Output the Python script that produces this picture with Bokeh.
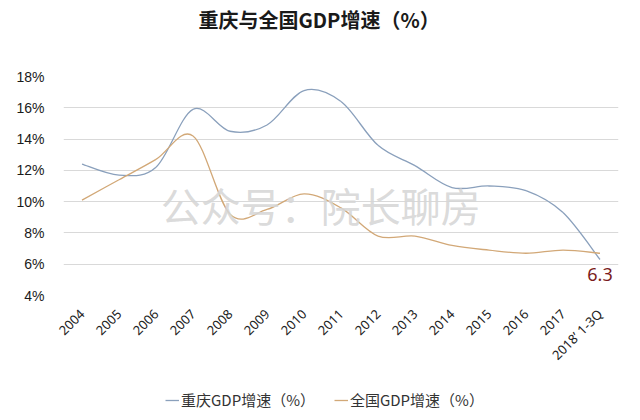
import math
from bokeh.plotting import figure
from bokeh.layouts import column
from bokeh.models import Range1d, FixedTicker, Legend, LegendItem, Label, Title
from bokeh.embed import file_html
from bokeh.resources import INLINE
from bokeh.core.properties import value

# ---- data ----
categories = ["2004", "2005", "2006", "2007", "2008", "2009", "2010", "2011",
              "2012", "2013", "2014", "2015", "2016", "2017", "2018’ 1-3Q"]
chongqing = [12.4, 11.7, 12.2, 15.9, 14.5, 14.9, 17.1, 16.4, 13.6, 12.3, 10.9, 11.0, 10.7, 9.3, 6.3]
national = [10.1, 11.4, 12.7, 14.2, 9.2, 9.5, 10.5, 9.6, 7.8, 7.8, 7.2, 6.9, 6.7, 6.9, 6.7]
y_ticks = [4, 6, 8, 10, 12, 14, 16, 18]
series_names = ["重庆GDP增速（%）", "全国GDP增速（%）"]
title_text = "重庆与全国GDP增速（%）"
watermark = "公众号：院长聊房"
last_label = "6.3"

CJK = "Noto Sans CJK SC"
BLUE = "#8aa0bc"
TAN = "#d2a877"

W = 632
H1 = 376
H2 = 40

p = figure(width=W, height=H1, output_backend="svg", toolbar_location=None, title=None,
           x_range=Range1d(-0.5, len(categories) - 0.5), y_range=Range1d(4, 18),
           min_border_left=63, min_border_right=W - 618, min_border_top=76, min_border_bottom=H1 - 295,
           background_fill_color="white", border_fill_color="white")
p.outline_line_color = None

# spacer (closest to frame) then title
p.add_layout(Title(text=" ", text_font_size="1px", standoff=40), "above")
p.add_layout(Title(text=title_text, align="left", offset=135, standoff=0,
                   text_font=CJK, text_font_size="20px", text_font_style="bold",
                   text_color="#1a1a1a"), "above")

# axes
p.xaxis.ticker = FixedTicker(ticks=list(range(len(categories))))
p.xaxis.major_label_overrides = {i: c for i, c in enumerate(categories)}
p.xaxis.major_label_orientation = math.pi / 4
p.xaxis.major_label_text_font = "Noto Sans"
p.xaxis.major_label_text_font_size = "13px"
p.xaxis.major_label_text_color = "#222222"
p.xaxis.axis_line_color = None
p.xaxis.major_tick_line_color = None
p.xaxis.minor_tick_line_color = None
p.xaxis.major_label_standoff = 10

p.yaxis.ticker = FixedTicker(ticks=y_ticks)
p.yaxis.major_label_overrides = {t: f"{t}%" for t in y_ticks}
p.yaxis.major_label_text_font = "Liberation Sans"
p.yaxis.major_label_text_font_size = "14px"
p.yaxis.major_label_text_color = "#1a1a1a"
p.yaxis.axis_line_color = None
p.yaxis.major_tick_line_color = None
p.yaxis.minor_tick_line_color = None
p.yaxis.major_label_standoff = 13

p.xgrid.grid_line_color = None
p.ygrid.grid_line_color = "#d9d9d9"
p.ygrid.grid_line_width = 1


def smooth(vals):
    n = len(vals)
    xs = list(range(n))
    d = dict(x0=[], y0=[], x1=[], y1=[], cx0=[], cy0=[], cx1=[], cy1=[])
    for i in range(n - 1):
        im1 = max(i - 1, 0)
        ip2 = min(i + 2, n - 1)
        d["x0"].append(xs[i]); d["y0"].append(vals[i])
        d["x1"].append(xs[i + 1]); d["y1"].append(vals[i + 1])
        d["cx0"].append(xs[i] + (xs[i + 1] - xs[im1]) / 6)
        d["cy0"].append(vals[i] + (vals[i + 1] - vals[im1]) / 6)
        d["cx1"].append(xs[i + 1] - (xs[ip2] - xs[i]) / 6)
        d["cy1"].append(vals[i + 1] - (vals[ip2] - vals[i]) / 6)
    return d


# watermark
wm = Label(x=6.45, y=9.8, text=watermark, text_font=CJK, text_font_size="40px",
           text_color="#d6d6d6", text_alpha=0.9, text_align="center", text_baseline="middle")
p.add_layout(wm)

p.bezier(line_color=BLUE, line_width=1.3, **smooth(chongqing))
p.bezier(line_color=TAN, line_width=1.3, **smooth(national))

p.text(x=[len(categories) - 1], y=[chongqing[-1]], text=[last_label],
       text_font=value("Noto Sans"), text_font_size="18px", text_color="#7a1c1c",
       text_align="center", text_baseline="top", y_offset=8)

# ---- legend strip (separate small figure; its lines lie outside its visible range) ----
pl = figure(width=W, height=H2, output_backend="svg", toolbar_location=None, title=None,
            x_range=Range1d(-0.5, len(categories) - 0.5), y_range=Range1d(100, 101),
            x_axis_location=None, y_axis_location=None,
            min_border_left=0, min_border_right=0, min_border_top=0, min_border_bottom=0,
            background_fill_color="white", border_fill_color="white")
pl.outline_line_color = None
pl.xgrid.visible = False
pl.ygrid.visible = False
l1 = pl.line(x=list(range(len(categories))), y=chongqing, line_color=BLUE, line_width=1.3)
l2 = pl.line(x=list(range(len(categories))), y=national, line_color=TAN, line_width=1.3)
legend = Legend(items=[LegendItem(label=series_names[0], renderers=[l1]),
                       LegendItem(label=series_names[1], renderers=[l2])],
                location=(102, 6), orientation="horizontal",
                label_text_font=CJK, label_text_font_size="15px", label_text_color="#333333",
                glyph_width=14, glyph_height=18, label_standoff=2, spacing=19,
                padding=0, margin=0, border_line_color=None, background_fill_alpha=0)
pl.add_layout(legend, "center")

layout = column(p, pl, spacing=0)
open("out.html", "w").write(file_html(layout, INLINE))
